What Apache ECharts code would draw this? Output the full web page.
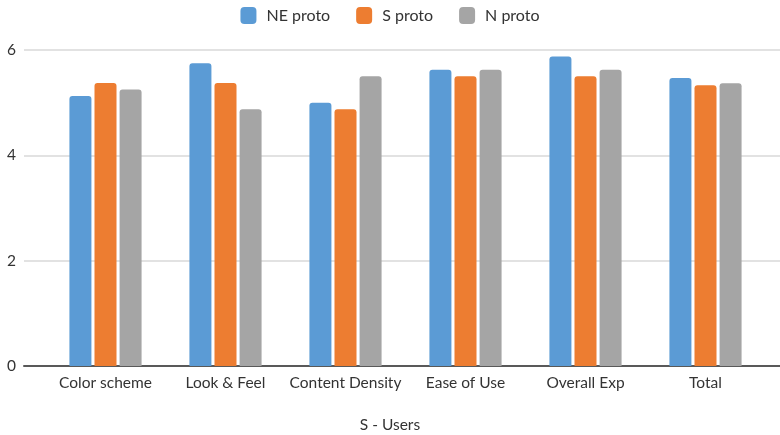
<!DOCTYPE html>
<html>
<head>
<meta charset="utf-8">
<script src="https://cdn.jsdelivr.net/npm/echarts@6/dist/echarts.min.js"></script>
<style>
  html, body { margin: 0; padding: 0; background: #fff; }
  #chart { width: 780px; height: 435px; }
</style>
</head>
<body>
<div id="chart"></div>
<script>
// Survey scores per aspect for the three prototypes (S users)
const categories = ['Color scheme', 'Look & Feel', 'Content Density', 'Ease of Use', 'Overall Exp', 'Total'];
const seriesNames = ['NE proto', 'S proto', 'N proto'];
const neProto = [5.125, 5.75, 5.0, 5.625, 5.875, 5.47];
const sProto  = [5.375, 5.375, 4.875, 5.5, 5.5, 5.33];
const nProto  = [5.25, 4.875, 5.5, 5.625, 5.625, 5.37];
const yTicks = [0, 2, 4, 6];
const axisTitle = 'S - Users';

const colors = ['#5B9BD5', '#ED7D31', '#A5A5A5'];
const font = 'Lato, "Liberation Sans", sans-serif';
const textColor = '#333333';

const chart = echarts.init(document.getElementById('chart'), null, { renderer: 'canvas' });

const seriesData = [neProto, sProto, nProto];

chart.setOption({
  animation: false,
  color: colors,
  textStyle: { fontFamily: font },
  title: {
    text: axisTitle,
    left: 'center',
    top: 412,
    textStyle: { fontFamily: font, fontSize: 15.5, fontWeight: 'normal', color: textColor }
  },
  legend: {
    top: 2,
    left: 'center',
    itemWidth: 16,
    itemHeight: 17,
    itemGap: 26,
    icon: 'roundRect',
    data: seriesNames,
    textStyle: { fontFamily: font, fontSize: 16, color: textColor, padding: [0, 0, 0, 5] }
  },
  grid: [
    // background grid: value axis labels, gridlines and baseline
    { left: 24, right: 0, top: 50, height: 316 },
    // bar area
    { left: 45.5, right: 14.5, top: 50, height: 316 }
  ],
  xAxis: [
    {
      type: 'category', gridIndex: 0, data: [''],
      axisLine: { show: true, lineStyle: { color: '#595959', width: 2 } },
      axisTick: { show: false }, axisLabel: { show: false }
    },
    {
      type: 'category', gridIndex: 1, data: categories,
      axisLine: { show: false }, axisTick: { show: false },
      axisLabel: { interval: 0, margin: 9, fontFamily: font, fontSize: 15.5, color: textColor }
    }
  ],
  yAxis: [
    {
      type: 'value', gridIndex: 0, min: yTicks[0], max: yTicks[yTicks.length - 1], interval: 2,
      axisLine: { show: false }, axisTick: { show: false },
      axisLabel: { margin: 8, fontFamily: font, fontSize: 15.5, color: textColor },
      splitLine: { lineStyle: { color: '#D9D9D9', width: 1.5 } }
    },
    {
      type: 'value', gridIndex: 1, min: yTicks[0], max: yTicks[yTicks.length - 1], interval: 2,
      show: false
    }
  ],
  series: seriesNames.map((name, i) => ({
    name,
    type: 'bar',
    xAxisIndex: 1,
    yAxisIndex: 1,
    barWidth: 22,
    barGap: '14%',
    data: seriesData[i],
    itemStyle: { color: colors[i], borderRadius: [3, 3, 0, 0] }
  }))
});
</script>
</body>
</html>
